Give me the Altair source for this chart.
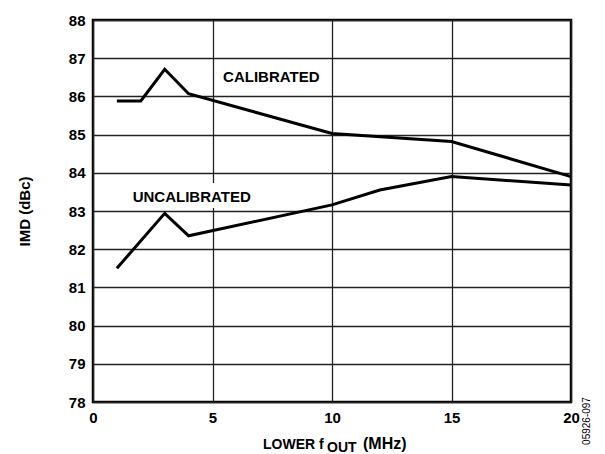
import altair as alt
import pandas as pd

# Data
cal_x = [1, 2, 3, 4, 10, 15, 20]
cal_y = [85.88, 85.88, 86.71, 86.07, 85.03, 84.82, 83.90]
unc_x = [1, 3, 4, 10, 12, 15, 20]
unc_y = [81.50, 82.94, 82.35, 83.16, 83.55, 83.90, 83.68]

x_ticks = [0, 5, 10, 15, 20]
y_ticks = [78, 79, 80, 81, 82, 83, 84, 85, 86, 87, 88]

label_text = ["CALIBRATED", "UNCALIBRATED"]
label_x = [7.46, 4.13]
label_y = [86.5, 83.36]

FONT = "Liberation Sans"
W, H = 478, 382

df = pd.DataFrame(
    {"x": cal_x + unc_x,
     "y": cal_y + unc_y,
     "s": ["CALIBRATED"] * len(cal_x) + ["UNCALIBRATED"] * len(unc_x)}
)

xs = alt.Scale(domain=[0, 20], nice=False, zero=False)
ys = alt.Scale(domain=[78, 88], nice=False, zero=False)

xaxis = alt.Axis(
    values=x_ticks, title=None, domain=False, ticks=False, grid=True,
    labelPadding=8, labelFontSize=15, labelFontWeight="bold", labelFont=FONT,
    labelColor="black", gridColor="#222222", gridWidth=1.3, labelFlush=False,
    labelOverlap=False)
yaxis = alt.Axis(
    values=y_ticks, title="IMD (dBc)", domain=False, ticks=False, grid=True,
    labelPadding=8, labelFontSize=15, labelFontWeight="bold", labelFont=FONT,
    labelColor="black", gridColor="#222222", gridWidth=1.3, labelFlush=False,
    labelOverlap=False,
    titleFont=FONT, titleFontSize=15, titleFontWeight="bold", titleColor="black",
    titlePadding=36)

lines = alt.Chart(df).mark_line(color="black", strokeWidth=3, strokeJoin="miter").encode(
    x=alt.X("x:Q", scale=xs, axis=xaxis),
    y=alt.Y("y:Q", scale=ys, axis=yaxis),
    detail="s:N")

# white box behind UNCALIBRATED label (hides gridline)
box = alt.Chart(pd.DataFrame({"x": [1.4], "x2": [6.85], "y": [83.08], "y2": [83.73]})).mark_rect(
    color="white").encode(
    x=alt.X("x:Q", scale=xs, axis=xaxis), x2="x2:Q",
    y=alt.Y("y:Q", scale=ys, axis=yaxis), y2="y2:Q")

labels = alt.Chart(pd.DataFrame({"t": label_text, "x": label_x, "y": label_y})).mark_text(
    font=FONT, fontSize=15, fontWeight="bold", color="black", align="center", baseline="middle"
).encode(x=alt.X("x:Q", scale=xs, axis=xaxis), y=alt.Y("y:Q", scale=ys, axis=yaxis), text="t:N")

one = pd.DataFrame({"a": [0]})
t1 = alt.Chart(one).mark_text(text="LOWER f", font=FONT, fontSize=14, fontWeight="bold",
                              color="black", align="left", baseline="alphabetic").encode(
    x=alt.value(170), y=alt.value(429))
t2 = alt.Chart(one).mark_text(text="OUT", font=FONT, fontSize=14, fontWeight="bold",
                              color="black", align="left", baseline="alphabetic").encode(
    x=alt.value(234), y=alt.value(432))
t3 = alt.Chart(one).mark_text(text="(MHz)", font=FONT, fontSize=16, fontWeight="bold",
                              color="black", align="left", baseline="alphabetic").encode(
    x=alt.value(270), y=alt.value(429))
side = alt.Chart(one).mark_text(text="05926-097", font=FONT, fontSize=10, color="black",
                                angle=270, align="center", baseline="middle").encode(
    x=alt.value(494), y=alt.value(401))

chart = alt.layer(box, lines, labels, t1, t2, t3, side).properties(
    width=W, height=H,
    autosize=alt.AutoSizeParams(type="none"),
    padding={"left": 85, "top": 12, "right": 26, "bottom": 52},
    background="white",
).configure_view(stroke="black", strokeWidth=2.5)

chart.save("out.html", embed_options={"renderer": "svg", "actions": False})
